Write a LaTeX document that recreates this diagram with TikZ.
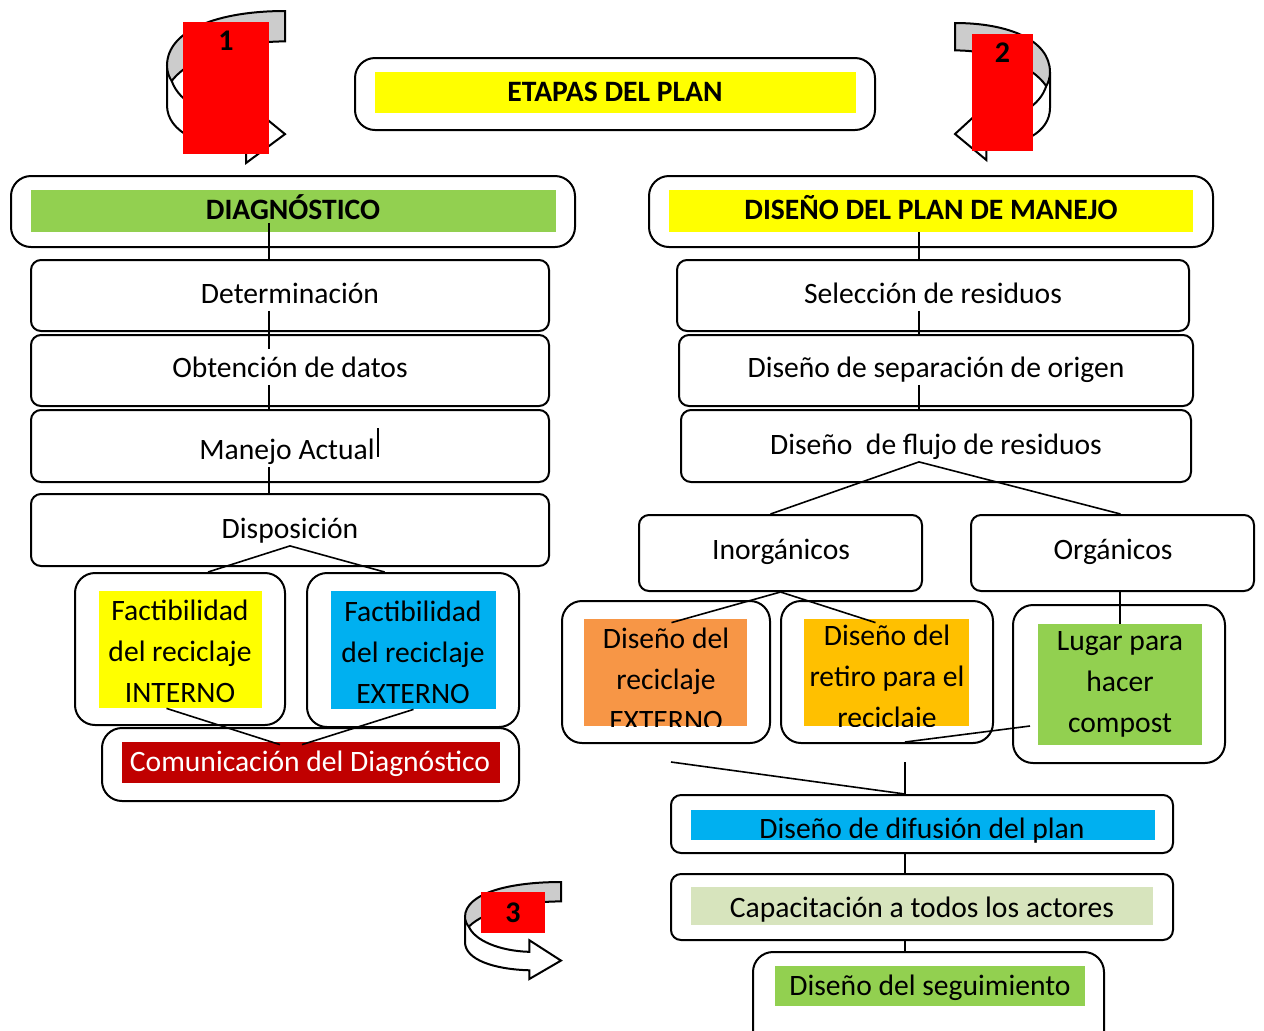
\documentclass[tikz,border=0pt]{standalone}
\usepackage{fontspec}
\setmainfont{Carlito}
\usetikzlibrary{positioning,fit,calc}

\definecolor{amarillo}{HTML}{FFFF00}
\definecolor{verde}{HTML}{92D050}
\definecolor{naranja}{HTML}{F79646}
\definecolor{oro}{HTML}{FFC000}
\definecolor{celeste}{HTML}{00B0F0}
\definecolor{granate}{HTML}{C00000}
\definecolor{palido}{HTML}{D7E4BD}
\definecolor{rojo}{HTML}{FF0000}
\definecolor{gris}{HTML}{CCCCCC}

\tikzset{
  caja/.style={draw, line width=1pt, rounded corners=5pt, inner sep=0pt},
  cajag/.style={caja, rounded corners=10pt},
  fondo/.style={inner sep=0pt},
  txt/.style={inner sep=2pt, text height=12pt, text depth=1.5pt, font=\fontsize{14.8}{18}\selectfont},
  txtg/.style={align=center, inner sep=0pt, font=\fontsize{14.8}{20.5}\selectfont},
  titulo/.style={inner sep=0pt, text height=12pt, text depth=1.5pt, font=\bfseries\fontsize{14.8}{18}\selectfont},
  linea/.style={line width=0.8pt},
  numero/.style={fill=rojo, inner sep=0pt},
  cifra/.style={inner sep=0pt, font=\bfseries\fontsize{15}{17}\selectfont},
  giro/.pic={
    \draw[line width=1pt, fill=white] (0,0.36) -- (0,0.62)
      .. controls (0,0.8) and (0.3,0.9) .. (0.67,0.91) -- (0.67,1) -- (1,0.81)
      -- (0.67,0.6) -- (0.67,0.72) .. controls (0.35,0.71) and (0.1,0.6) .. (0.04,0.46);
    \draw[line width=1pt, fill=gris] (1,0) .. controls (0.45,0) and (0,0.12) .. (0,0.36)
      .. controls (0,0.4) and (0.02,0.44) .. (0.04,0.46)
      .. controls (0.2,0.3) and (0.6,0.2) .. (1,0.2) -- cycle;
  }
}

\begin{document}
\begin{tikzpicture}[x=0.5pt, y=-0.5pt]
    \useasboundingbox (0,0) rectangle (1264,1030);

    % curved arrows with their numbers
    \pic[xscale=118, yscale=152] at (167,11) {giro};
    \pic[xscale=-95, yscale=137] at (1050,23) {giro};
    \pic[xscale=96, yscale=97] at (465,882) {giro};
    \node[numero, fit={(183,22) (269,154)}] (n1) {};
    \node[cifra, below=4.5pt of n1.north] {1};
    \node[numero, fit={(972,34) (1033,151)}] (n2) {};
    \node[cifra, below=4.5pt of n2.north] {2};
    \node[numero, fit={(481,892) (545,933)}] (n3) {};
    \node[cifra] at (n3.center) {3};

    % title
    \node[cajag, fit={(355,58) (875,130)}] (etp) {};
    \node[fondo, fill=amarillo, fit={(375,72) (856,113)}] (etpi) {};
    \node[titulo] at (615,91) {ETAPAS DEL PLAN};

    % left branch: diagnostico
    \node[cajag, fit={(11,176) (575,247)}] (dgo) {};
    \node[fondo, fill=verde, fit={(31,190) (556,232)}] (dgi) {};
    \node[titulo] (dgt) at (293,209) {DIAGNÓSTICO};
    \node[caja, fit={(31,260) (549,331)}] (det) {};
    \node[caja, fit={(31,335) (549,406)}] (obt) {};
    \node[caja, fit={(31,410) (549,482)}] (man) {};
    \node[caja, fit={(31,494) (549,566)}] (dis) {};
    \node[txt] (tdet) at (290,293) {Determinación};
    \node[txt] (tobt) at (290,367) {Obtención de datos};
    \node[txt] (tman) at (287,449) {Manejo Actual};
    \node[txt] (tdis) at (290,528) {Disposición};
    \draw[line width=0.6pt] (378,428) -- (378,457);

    \node[cajag, fit={(75,573) (285,725)}] (fint) {};
    \node[fondo, fill=amarillo, fit={(99,591) (262,708)}] (fii) {};
    \node[txtg] at (180,651) {Factibilidad\\del reciclaje\\INTERNO};
    \node[cajag, fit={(307,573) (519,727)}] (fext) {};
    \node[fondo, fill=celeste, fit={(331,591) (496,709)}] (fei) {};
    \node[txtg] at (413,652) {Factibilidad\\del reciclaje\\EXTERNO};
    \node[cajag, fit={(102,728) (519,801)}] (com) {};
    \node[fondo, fill=granate, fit={(122,742) (500,783)}] (comi) {};
    \node[txt, text=white] at (310,761) {Comunicación del Diagnóstico};

    % right branch: diseno del plan
    \node[cajag, fit={(649,176) (1213,247)}] (dmo) {};
    \node[fondo, fill=amarillo, fit={(669,190) (1193,232)}] (dmi) {};
    \node[titulo] at (931,209) {DISEÑO DEL PLAN DE MANEJO};
    \node[caja, fit={(677,260) (1189,331)}] (sel) {};
    \node[caja, fit={(679,335) (1193,406)}] (sep) {};
    \node[caja, fit={(681,410) (1191,482)}] (flu) {};
    \node[txt] (tsel) at (933,293) {Selección de residuos};
    \node[txt] (tsep) at (936,367) {Diseño de separación de origen};
    \node[txt] (tflu) at (936,444) {Diseño~~de flujo de residuos};
    \node[caja, fit={(639,515) (922,591)}] (ino) {};
    \node[txt] at (781,549) {Inorgánicos};
    \node[caja, fit={(971,515) (1254,591)}] (org) {};
    \node[txt] at (1113,549) {Orgánicos};

    \node[cajag, fit={(562,601) (770,743)}] (rex) {};
    \node[fondo, fill=naranja, fit={(584,619) (747,726)}] (rexi) {};
    \node[cajag, fit={(781,601) (993,743)}] (ret) {};
    \node[fondo, fill=oro, fit={(804,619) (969,726)}] (reti) {};
    \begin{scope}
        \clip (584,619) rectangle (747,726);
        \node[txtg] at (666,679) {Diseño del\\reciclaje\\EXTERNO};
    \end{scope}
    \begin{scope}
        \clip (804,619) rectangle (969,726);
        \node[txtg] at (887,679) {Diseño del\\retiro para el\\reciclaje};
    \end{scope}
    \node[cajag, fit={(1013,605) (1225,763)}] (lug) {};
    \node[fondo, fill=verde, fit={(1038,624) (1202,745)}] (lugi) {};
    \node[txtg] at (1120,684) {Lugar para\\hacer\\compost};

    \node[caja, fit={(671,795) (1173,853)}] (dif) {};
    \node[fondo, fill=celeste, fit={(691,810) (1155,840)}] (difi) {};
    \node[txt] at (922,828) {Diseño de difusión del plan};
    \node[caja, fit={(671,874) (1173,940)}] (cap) {};
    \node[fondo, fill=palido, fit={(691,887) (1153,925)}] (capi) {};
    \node[txt] at (922,907) {Capacitación a todos los actores};
    \node[cajag, fit={(753,952) (1104,1060)}] (seg) {};
    \node[fondo, fill=verde, fit={(775,966) (1085,1006)}] (segi) {};
    \node[txt] at (930,985) {Diseño del seguimiento};

    % connectors
    \coordinate (lx) at (269,0);
    \coordinate (rx) at (919,0);
    \coordinate (kd) at (905,762);
    \coordinate (ke) at (671,762);
    \coordinate (k1) at (1030,726);
    \coordinate (k2) at (905,742);

    \draw[linea] (dgt.south -| lx) -- (det.north -| lx);
    \draw[linea] (tdet.south -| lx) -- (tobt.north -| lx);
    \draw[linea] (tobt.south -| lx) -- (man.north -| lx);
    \draw[linea] (tman.south -| lx) -- (dis.north -| lx);
    \draw[linea] (tdis.south) -- (fint.70);
    \draw[linea] (tdis.south) -- (fext.110);
    \draw[linea] ($(fii.south)+(-14,0)$) -- ($(comi.north)+(-31,3)$);
    \draw[linea] (fei.south) -- ($(comi.north)+(-9,3)$);

    \draw[linea] (dmi.south -| rx) -- (sel.north -| rx);
    \draw[linea] (tsel.south -| rx) -- (sep.north -| rx);
    \draw[linea] (tsep.south -| rx) -- (flu.north -| rx);
    \draw[linea] (tflu.south -| rx) -- ($(ino.north)+(-10,0)$);
    \draw[linea] (tflu.south -| rx) -- ($(org.north)+(8,0)$);
    \draw[linea] (ino.south) -- ($(rexi.north)+(6,4)$);
    \draw[linea] (ino.south) -- ($(reti.north)+(-11,4)$);
    \draw[linea] (org.south -| lugi.north) -- (lugi.north);
    \draw[linea] (k1) -- (k2);
    \draw[linea] (kd) -- (kd |- dif.north);
    \draw[linea] (ke) -- (kd |- dif.north);
    \draw[linea] (dif.south -| kd) -- (cap.north -| kd);
    \draw[linea] (cap.south -| kd) -- (seg.north -| kd);
\end{tikzpicture}
\end{document}
